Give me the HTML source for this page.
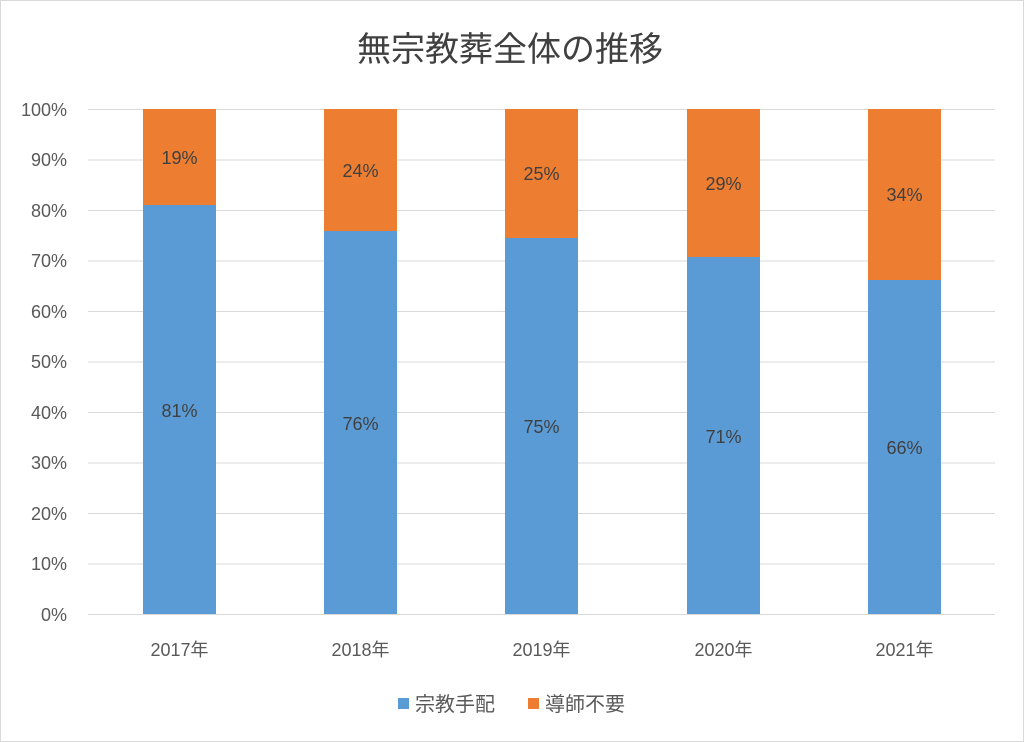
<!DOCTYPE html>
<html><head><meta charset="utf-8"><style>
body{margin:0;background:#fff}
svg{display:block;font-family:"Liberation Sans","Noto Sans CJK JP",sans-serif}
</style></head><body>
<svg width="1024" height="742" viewBox="0 0 1024 742" xmlns="http://www.w3.org/2000/svg">
<rect x="0.5" y="0.5" width="1023" height="741" fill="#fff" stroke="#d9d9d9"/>
<text x="510" y="61" font-size="34" text-anchor="middle" fill="#404040">無宗教葬全体の推移</text>
<g stroke="#d9d9d9" stroke-width="1">
<line x1="88" y1="109.5" x2="995" y2="109.5"/><line x1="88" y1="160" x2="995" y2="160"/>
<line x1="88" y1="210.5" x2="995" y2="210.5"/><line x1="88" y1="261" x2="995" y2="261"/>
<line x1="88" y1="311.5" x2="995" y2="311.5"/><line x1="88" y1="362" x2="995" y2="362"/>
<line x1="88" y1="412.5" x2="995" y2="412.5"/><line x1="88" y1="463" x2="995" y2="463"/>
<line x1="88" y1="513.5" x2="995" y2="513.5"/><line x1="88" y1="564" x2="995" y2="564"/>
<line x1="88" y1="614.5" x2="995" y2="614.5"/>
</g>
<g font-size="18" fill="#595959" text-anchor="end">
<text x="67" y="116">100%</text><text x="67" y="166">90%</text><text x="67" y="217">80%</text>
<text x="67" y="267">70%</text><text x="67" y="318">60%</text><text x="67" y="368">50%</text>
<text x="67" y="419">40%</text><text x="67" y="469">30%</text><text x="67" y="520">20%</text>
<text x="67" y="570">10%</text><text x="67" y="621">0%</text>
</g>
<g fill="#5b9bd5">
<rect x="143" y="205" width="73" height="409"/><rect x="324" y="231" width="73" height="383"/>
<rect x="505" y="238" width="73" height="376"/><rect x="687" y="257" width="73" height="357"/>
<rect x="868" y="280" width="73" height="334"/>
</g>
<g fill="#ed7d31">
<rect x="143" y="109" width="73" height="96"/><rect x="324" y="109" width="73" height="122"/>
<rect x="505" y="109" width="73" height="129"/><rect x="687" y="109" width="73" height="148"/>
<rect x="868" y="109" width="73" height="171"/>
</g>
<g font-size="18" fill="#404040" text-anchor="middle">
<text x="179.5" y="417">81%</text><text x="360.5" y="430">76%</text><text x="541.5" y="433">75%</text>
<text x="723.5" y="443">71%</text><text x="904.5" y="454">66%</text>
<text x="179.5" y="164">19%</text><text x="360.5" y="177">24%</text><text x="541.5" y="180">25%</text>
<text x="723.5" y="190">29%</text><text x="904.5" y="201">34%</text>
</g>
<g font-size="18" fill="#595959" text-anchor="middle">
<text x="179.5" y="656">2017年</text><text x="360.5" y="656">2018年</text><text x="541.5" y="656">2019年</text>
<text x="723.5" y="656">2020年</text><text x="904.5" y="656">2021年</text>
</g>
<rect x="398" y="698" width="11" height="11" fill="#5b9bd5"/>
<text x="415" y="711" font-size="20" fill="#595959">宗教手配</text>
<rect x="528" y="698" width="11" height="11" fill="#ed7d31"/>
<text x="545" y="711" font-size="20" fill="#595959">導師不要</text>
</svg>
</body></html>
